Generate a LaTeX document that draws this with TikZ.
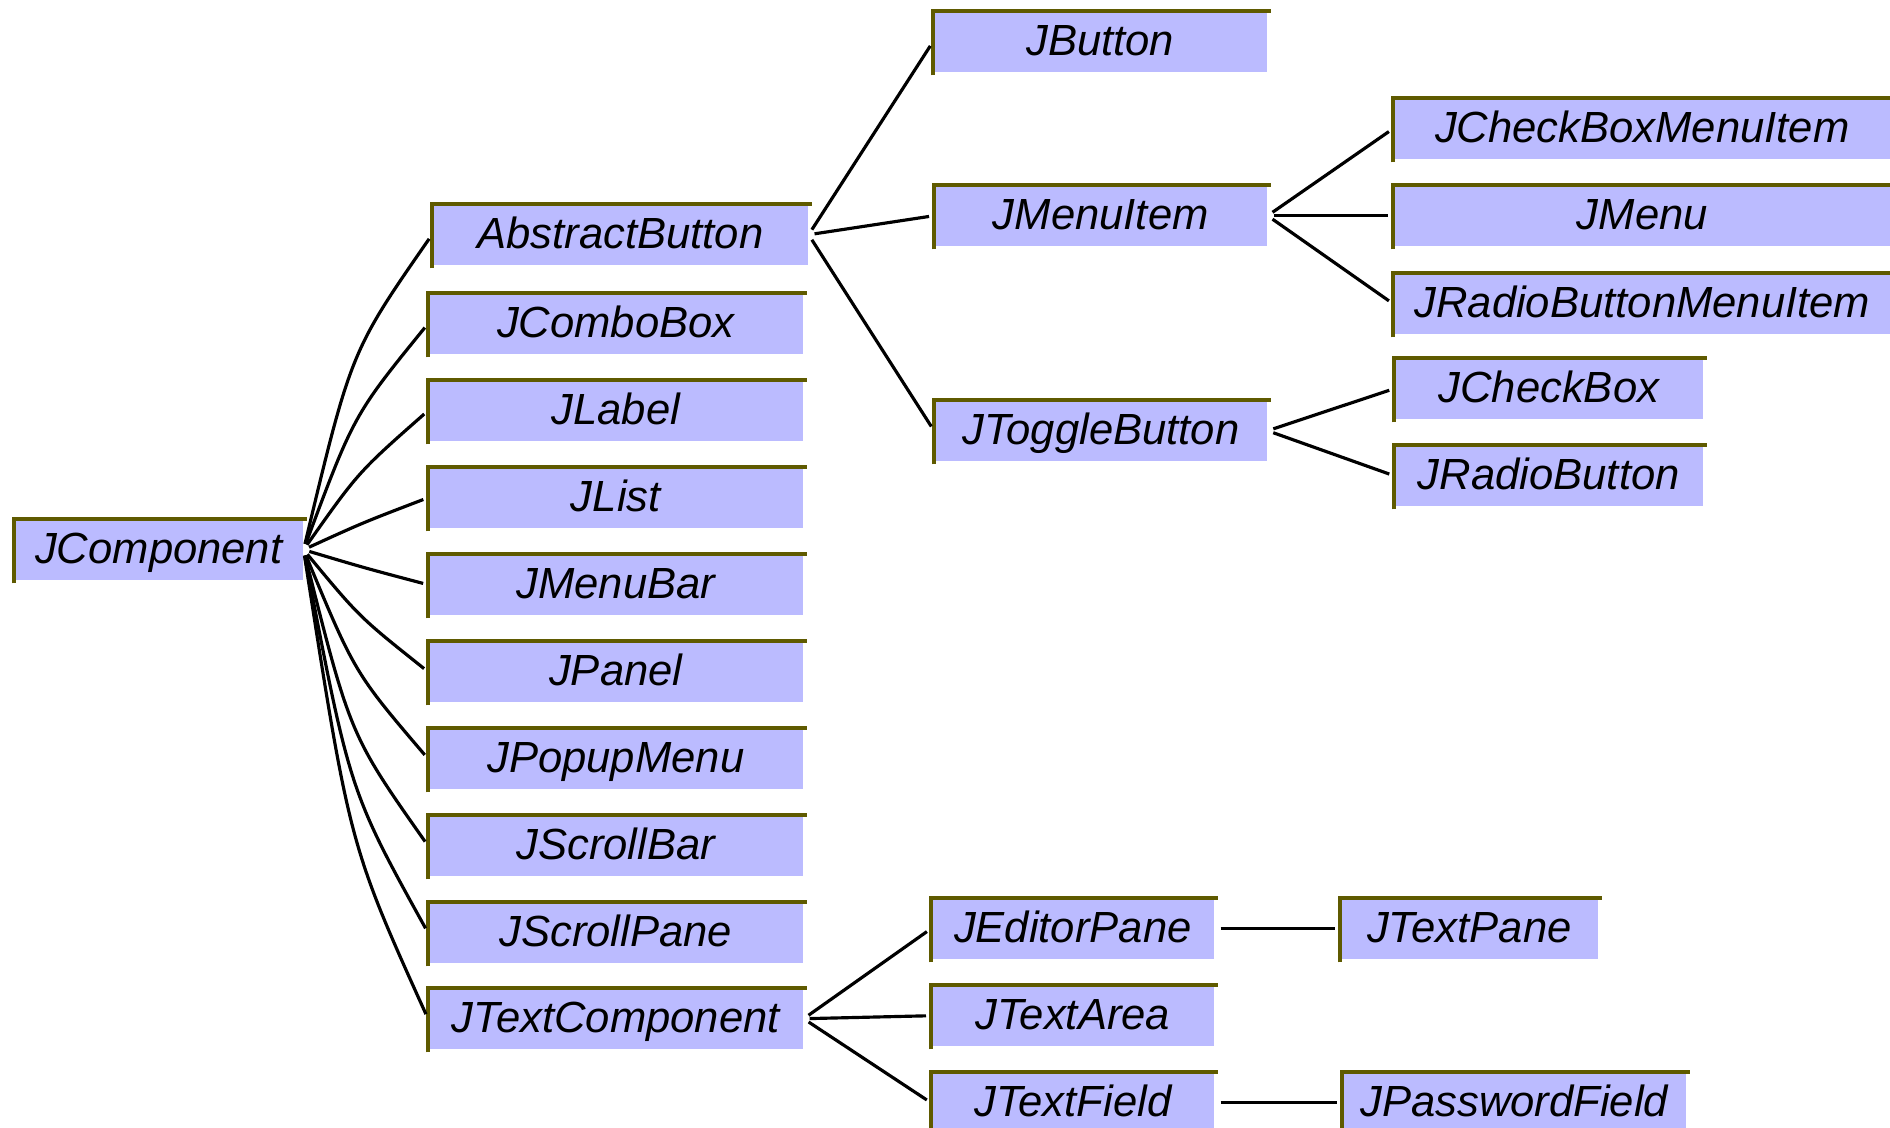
\documentclass[tikz,border=0pt]{standalone}
\usepackage{fontspec}
\setmainfont{Liberation Sans}
\usetikzlibrary{calc}
\definecolor{boxColor}{HTML}{BBBBFF}
\definecolor{edgeColor}{HTML}{5F5A00}
\tikzset{class box/.style={fill=boxColor, anchor=north west, inner sep=0pt,
		minimum height=0.6cm, minimum width=#1, text height=10pt, text depth=2.3pt,
		font=\fontsize{12.4}{14}\selectfont\itshape}}
\tikzset{class edge/.style={draw=edgeColor, line width=0.95pt}}
\tikzset{link/.style={draw=black, line width=0.9pt, shorten <=0.06cm, shorten >=0.05cm}}

\begin{document}
\begin{tikzpicture}[x=0.01cm, y=-0.01cm]
	\useasboundingbox (0,0) rectangle (1890,1128);
	\clip (0,0) rectangle (1890,1128);
	% root
	\node[class box=2.88cm] at (14,519) (jcomp) {JComponent};
	% direct subclasses
	\node[class box=3.75cm] at (432,204) (absbtn) {AbstractButton};
	\node[class box=3.74cm] at (428,293) (jcombo) {JComboBox};
	\node[class box=3.74cm] at (428,380) (jlabel) {JLabel};
	\node[class box=3.74cm] at (428,467) (jlist) {JList};
	\node[class box=3.74cm] at (428,554) (jmenubar) {JMenuBar};
	\node[class box=3.74cm] at (428,641) (jpanel) {JPanel};
	\node[class box=3.74cm] at (428,728) (jpopup) {JPopupMenu};
	\node[class box=3.74cm] at (428,815) (jscrollbar) {JScrollBar};
	\node[class box=3.74cm] at (428,902) (jscrollpane) {JScrollPane};
	\node[class box=3.74cm] at (428,988) (jtextcomp) {JTextComponent};
	% buttons
	\node[class box=3.33cm] at (933,11) (jbutton) {JButton};
	\node[class box=3.32cm] at (934,185) (jmenuitem) {JMenuItem};
	\node[class box=3.32cm] at (934,400) (jtoggle) {JToggleButton};
	\node[class box=4.97cm] at (1393,98) (jcbmenuitem) {JCheckBoxMenuItem};
	\node[class box=4.97cm] at (1393,185) (jmenu) {JMenu};
	\node[class box=4.97cm] at (1393,273) (jrbmenuitem) {JRadioButtonMenuItem};
	\node[class box=3.08cm] at (1394,358) (jcheckbox) {JCheckBox};
	\node[class box=3.08cm] at (1394,445) (jradio) {JRadioButton};
	% text components
	\node[class box=2.82cm] at (931,898) (jeditor) {JEditorPane};
	\node[class box=2.82cm] at (931,985) (jtextarea) {JTextArea};
	\node[class box=2.82cm] at (931,1072) (jtextfield) {JTextField};
	\node[class box=2.57cm] at (1340,898) (jtextpane) {JTextPane};
	\node[class box=3.43cm] at (1342,1072) (jpassword) {JPasswordField};
	% top and left edges of the boxes
	\foreach \c in {jcomp,absbtn,jcombo,jlabel,jlist,jmenubar,jpanel,jpopup,jscrollbar,
		jscrollpane,jtextcomp,jbutton,jmenuitem,jtoggle,jcbmenuitem,jmenu,jrbmenuitem,
		jcheckbox,jradio,jeditor,jtextarea,jtextfield,jtextpane,jpassword}
	\draw[class edge] ([yshift=-0.03cm]\c.south west) -- (\c.north west) -- ([xshift=0.03cm]\c.north east);
	% fan out of JComponent, bending more the further it goes
	\foreach \c in {absbtn,jcombo,jlabel,jlist,jmenubar,jpanel,jpopup,jscrollbar,jscrollpane,jtextcomp}
	\draw[link] (jcomp.east) let \p1=(jcomp.east), \p2=(\c.west),
		\n1={min(0.13,0.0015*abs(\y2-\y1))} in
		.. controls ({\x1+(0.5-\n1)*(\x2-\x1)},{\y1+(0.5+\n1)*(\y2-\y1)}) .. (\c.west);
	\foreach \c in {jbutton,jmenuitem,jtoggle}
	\path (absbtn.east) edge[link] (\c.west);
	\foreach \c in {jcbmenuitem,jmenu,jrbmenuitem}
	\path (jmenuitem.east) edge[link] (\c.west);
	\foreach \c in {jcheckbox,jradio}
	\path (jtoggle.east) edge[link] (\c.west);
	\foreach \c in {jeditor,jtextarea,jtextfield}
	\path (jtextcomp.east) edge[link] (\c.west);
	\path (jeditor.east) edge[link] (jtextpane.west);
	\path (jtextfield.east) edge[link] (jpassword.west);
\end{tikzpicture}
\end{document}
